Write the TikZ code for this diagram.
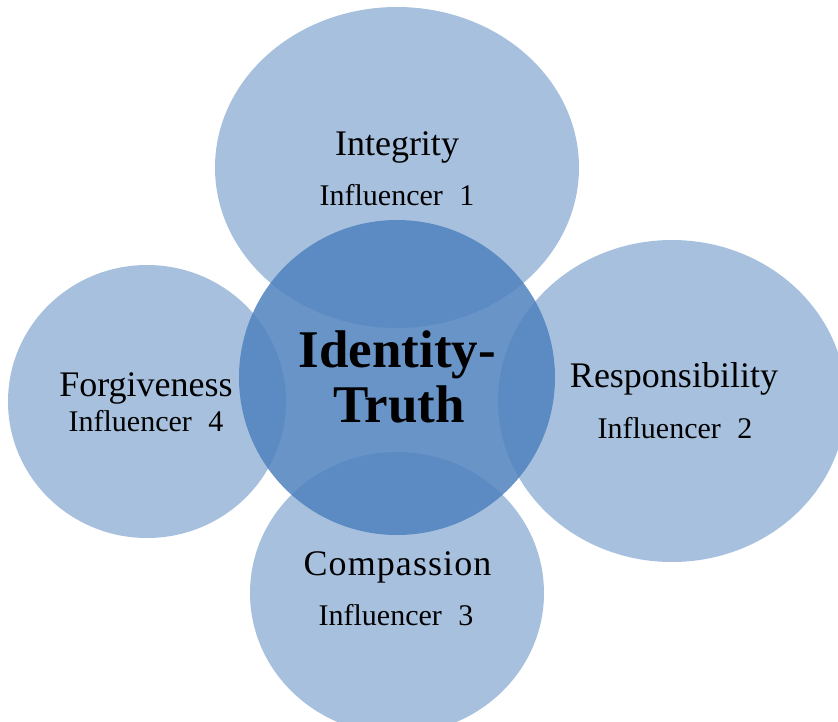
\documentclass[tikz,border=0pt]{standalone}
\usepackage{fontspec}
\setmainfont{Liberation Serif}
\usetikzlibrary{shapes.geometric}
\definecolor{accentblue}{HTML}{4F81BD}
\tikzset{
  outerblob/.style={ellipse, fill=accentblue, fill opacity=0.5, draw=none, inner sep=0pt, outer sep=0pt},
  coreblob/.style={ellipse, fill=accentblue, fill opacity=0.85, draw=none, inner sep=0pt, outer sep=0pt},
  bigtext/.style={anchor=base, inner sep=0pt, font=\fontsize{36}{40}\selectfont},
  smalltext/.style={anchor=base, inner sep=0pt, font=\fontsize{30}{34}\selectfont},
  coretext/.style={anchor=base, inner sep=0pt, font=\fontsize{53}{55}\selectfont\bfseries},
}
\newcommand{\infl}[1]{Influencer\hspace{0.55em}#1}
\begin{document}
\begin{tikzpicture}[x=1pt,y=-1pt]
\useasboundingbox (0,0) rectangle (838,721);
\clip (0,0) rectangle (838,721);
\node[outerblob, minimum width=364pt, minimum height=321pt] (top) at (397,167.5) {};
\node[outerblob, minimum width=348pt, minimum height=322pt] (right) at (672,401) {};
\node[outerblob, minimum width=278pt, minimum height=273pt] (left) at (147,401.5) {};
\node[outerblob, minimum width=294pt, minimum height=282pt] (bottom) at (397,593) {};
\node[coreblob, minimum width=316pt, minimum height=315pt] (core) at (397,377.5) {};
% texts
\node[bigtext] (t1) at (397,155) {Integrity};
\node[smalltext] (s1) at (397,205) {\infl{1}};
\node[bigtext] (t2) at (674,387) {Responsibility};
\node[smalltext] (s2) at (675,438) {\infl{2}};
\node[bigtext] (t3) at (397.5,575) {\addfontfeature{LetterSpace=3}Compassion};
\node[smalltext] (s3) at (396,625) {\infl{3}};
\node[bigtext] (t4) at (146,396) {Forgiveness};
\node[smalltext] (s4) at (146,431) {\infl{4}};
\node[coretext] (c1) at (397.5,367) {Identity-};
\node[coretext] (c2) at (399,422) {Truth};
\end{tikzpicture}
\end{document}
